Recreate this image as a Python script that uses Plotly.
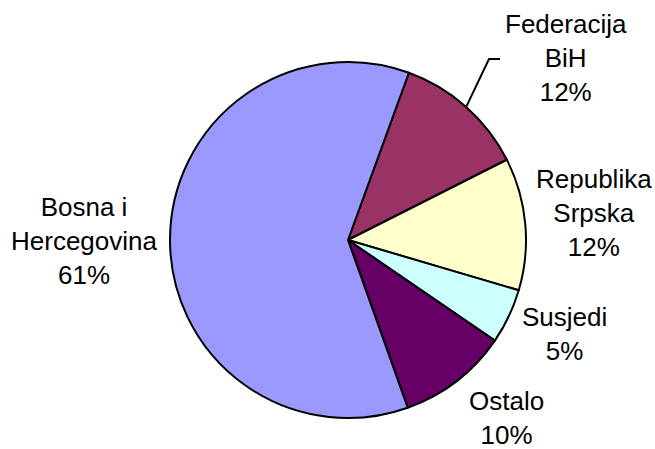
import plotly.graph_objects as go
import math

labels = ["Federacija<br>BiH", "Republika<br>Srpska", "Susjedi", "Ostalo", "Bosna i<br>Hercegovina"]
values = [12, 12, 5, 10, 61]
colors = ["#993366", "#FFFFCC", "#CCFFFF", "#660066", "#9999FF"]

# label block centres (pixels from top-left), kept apart from the data
label_pos = [(566, 58), (594, 213), (564, 334), (506, 418), (84, 241)]

W, H = 655, 449
cx, cy, r = 348, 240, 178
rotation = 20
FONT = "Arial, Liberation Sans, sans-serif"

fig = go.Figure(go.Pie(
    labels=labels,
    values=values,
    sort=False,
    direction="clockwise",
    rotation=rotation,
    marker=dict(colors=colors, line=dict(color="black", width=2)),
    textinfo="none",
    hoverinfo="label+percent",
    domain=dict(x=[(cx - r) / W, (cx + r) / W], y=[(H - cy - r) / H, (H - cy + r) / H]),
    automargin=False,
))

total = sum(values)
annotations = []
for lab, v, (px, py) in zip(labels, values, label_pos):
    pct = round(v / total * 100)
    annotations.append(dict(
        x=px / W, y=1 - py / H, xref="paper", yref="paper",
        text=f"{lab}<br>{pct}%", showarrow=False,
        xanchor="center", yanchor="middle", align="center",
        borderpad=0,
        font=dict(family=FONT, size=26, color="black"),
    ))

# leader line for the first slice (Federacija BiH)
mid_angle = math.radians(rotation + values[0] / total * 360 / 2)
x0 = cx + r * math.sin(mid_angle)
y0 = cy - r * math.cos(mid_angle)
elbow = (489, 59)
end = (500, 59)
shapes = [dict(
    type="path", xref="paper", yref="paper",
    path=f"M {x0 / W},{1 - y0 / H} L {elbow[0] / W},{1 - elbow[1] / H} L {end[0] / W},{1 - end[1] / H}",
    line=dict(color="black", width=2),
)]

fig.update_layout(
    width=W, height=H,
    margin=dict(l=0, r=0, t=0, b=0),
    paper_bgcolor="white",
    plot_bgcolor="white",
    showlegend=False,
    annotations=annotations,
    shapes=shapes,
)

fig.write_html("out.html", config={"displayModeBar": False},
               post_script="document.body.style.margin='0';")
